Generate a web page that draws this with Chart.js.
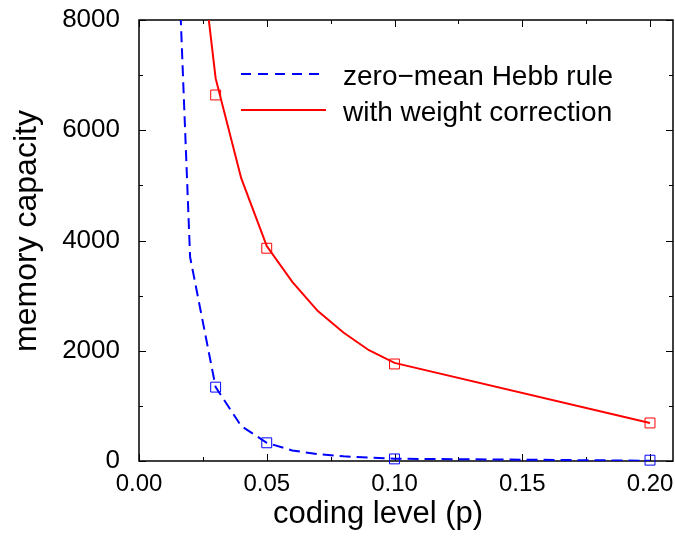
<!DOCTYPE html>
<html>
<head>
<meta charset="utf-8">
<script src="https://cdn.jsdelivr.net/npm/chart.js@4"></script>
<style>
  body { margin: 0; background: #fff; }
  canvas { display: block; }
</style>
</head>
<body>
<canvas id="capacityChart" width="675" height="536"></canvas>
<script>
// theory curves
var blueP = [0.01, 0.02, 0.03, 0.04, 0.05, 0.06, 0.07, 0.08, 0.09, 0.10, 0.20];
var blueCurve = [15500, 3700, 1340, 635, 330, 190, 125, 85, 60, 42, 5];
var redP = [0.02, 0.03, 0.04, 0.05, 0.06, 0.07, 0.08, 0.09, 0.10, 0.20];
var redCurve = [10900, 6940, 5130, 3900, 3250, 2720, 2330, 2010, 1780, 690];

// simulation points (squares)
var simP = [0.03, 0.05, 0.10, 0.20];
var blueSim = [1340, 330, 38, 15];
var redSim = [6640, 3860, 1760, 690];

var xMajor = [0, 0.05, 0.10, 0.15, 0.20];
var xMinor = [0.025, 0.075, 0.125, 0.175];
var yMajor = [0, 2000, 4000, 6000, 8000];
var yMinor = [1000, 3000, 5000, 7000];

var BLUE = "#0000ff";
var RED = "#ff0000";
var FONT = "'Liberation Sans', Arial, Helvetica, sans-serif";

function pts(xs, ys) {
  return xs.map(function(x, i) { return { x: x, y: ys[i] }; });
}

var framePlugin = {
  id: "frame",
  beforeDatasetsDraw: function(chart) {
    var ctx = chart.ctx, a = chart.chartArea;
    var xs = chart.scales.x, ys = chart.scales.y;
    ctx.save();
    ctx.strokeStyle = "#000";
    ctx.lineWidth = 1.5;
    ctx.strokeRect(a.left, a.top, a.right - a.left, a.bottom - a.top);
    ctx.lineWidth = 1;
    function xt(vals, len) {
      vals.forEach(function(v) {
        var px = Math.round(xs.getPixelForValue(v)) + 0.5;
        ctx.beginPath();
        ctx.moveTo(px, a.bottom); ctx.lineTo(px, a.bottom - len);
        ctx.moveTo(px, a.top); ctx.lineTo(px, a.top + len);
        ctx.stroke();
      });
    }
    function yt(vals, len) {
      vals.forEach(function(v) {
        var py = Math.round(ys.getPixelForValue(v)) + 0.5;
        ctx.beginPath();
        ctx.moveTo(a.left, py); ctx.lineTo(a.left + len, py);
        ctx.moveTo(a.right, py); ctx.lineTo(a.right - len, py);
        ctx.stroke();
      });
    }
    xt(xMajor, 7); xt(xMinor, 4);
    yt(yMajor, 7); yt(yMinor, 4);
    ctx.restore();
  },
  afterDraw: function(chart) {
    var ctx = chart.ctx;
    ctx.save();
    // legend
    ctx.lineWidth = 2;
    ctx.strokeStyle = BLUE;
    ctx.setLineDash([10, 7]);
    ctx.beginPath(); ctx.moveTo(241, 74); ctx.lineTo(326, 74); ctx.stroke();
    ctx.setLineDash([]);
    ctx.strokeStyle = RED;
    ctx.beginPath(); ctx.moveTo(241, 110); ctx.lineTo(326, 110); ctx.stroke();
    ctx.fillStyle = "#000";
    ctx.font = "28px " + FONT;
    ctx.textAlign = "left";
    ctx.textBaseline = "alphabetic";
    ctx.fillText(chart.data.datasets[0].label, 343, 85);
    ctx.fillText(chart.data.datasets[1].label, 343, 121);
    // axis titles
    ctx.font = "31px " + FONT;
    ctx.textAlign = "center";
    ctx.textBaseline = "middle";
    ctx.fillText("coding level (p)", 378, 514);
    ctx.translate(27, 231);
    ctx.rotate(-Math.PI / 2);
    ctx.font = "32px " + FONT;
    ctx.fillText("memory capacity", 0, 0);
    ctx.restore();
  }
};

new Chart(document.getElementById("capacityChart"), {
  type: "scatter",
  data: {
    datasets: [
      {
        label: "zero\u2212mean Hebb rule",
        data: pts(blueP, blueCurve),
        showLine: true,
        borderColor: BLUE,
        borderWidth: 2,
        borderDash: [11, 6],
        pointRadius: 0,
        clip: 0
      },
      {
        label: "with weight correction",
        data: pts(redP, redCurve),
        showLine: true,
        borderColor: RED,
        borderWidth: 2,
        pointRadius: 0,
        clip: 0
      },
      {
        label: "sim blue",
        data: pts(simP, blueSim),
        showLine: false,
        pointStyle: "rect",
        pointRadius: 7,
        pointBorderWidth: 1,
        pointBorderColor: BLUE,
        pointBackgroundColor: "rgba(0,0,0,0)",
        clip: false
      },
      {
        label: "sim red",
        data: pts(simP, redSim),
        showLine: false,
        pointStyle: "rect",
        pointRadius: 7,
        pointBorderWidth: 1,
        pointBorderColor: RED,
        pointBackgroundColor: "rgba(0,0,0,0)",
        clip: false
      }
    ]
  },
  options: {
    responsive: false,
    animation: false,
    layout: { autoPadding: false, padding: { top: 20, right: 2, left: 0, bottom: 0 } },
    scales: {
      x: {
        type: "linear",
        min: 0,
        max: 0.209,
        grid: { display: false, drawTicks: false },
        border: { display: false },
        afterBuildTicks: function(scale) {
          scale.ticks = xMajor.map(function(v) { return { value: v }; });
        },
        afterFit: function(scale) {
          scale.height = 75;
          scale.paddingLeft = 0;
          scale.paddingRight = 0;
        },
        ticks: {
          color: "#000",
          padding: 9,
          maxRotation: 0,
          autoSkip: false,
          font: { size: 24, family: FONT },
          callback: function(v) { return Number(v).toFixed(2); }
        }
      },
      y: {
        type: "linear",
        min: 0,
        max: 8000,
        grid: { display: false, drawTicks: false },
        border: { display: false },
        afterBuildTicks: function(scale) {
          scale.ticks = yMajor.map(function(v) { return { value: v }; });
        },
        afterFit: function(scale) {
          scale.width = 139;
          scale.paddingTop = 0;
          scale.paddingBottom = 0;
        },
        ticks: {
          color: "#000",
          padding: 19,
          autoSkip: false,
          font: { size: 26, family: FONT },
          callback: function(v) { return String(v); }
        }
      }
    },
    plugins: {
      legend: { display: false },
      tooltip: { enabled: false }
    }
  },
  plugins: [framePlugin]
});
</script>
</body>
</html>
